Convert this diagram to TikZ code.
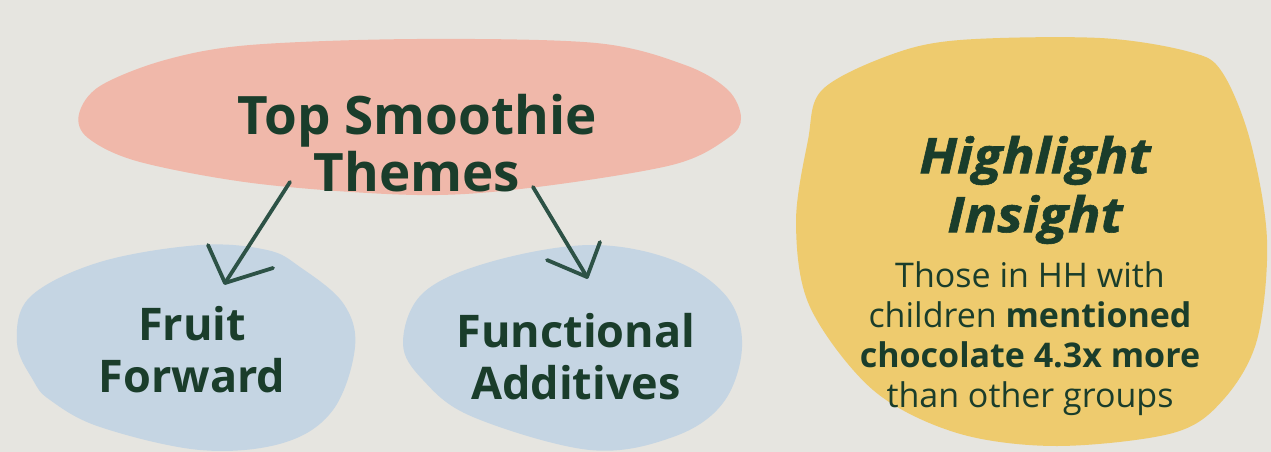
\documentclass[tikz,border=0pt]{standalone}
\usepackage{fontspec}
\setmainfont{Open Sans}
\definecolor{bg}{HTML}{E6E5E0}
\definecolor{pinkblob}{HTML}{F0B8AA}
\definecolor{blueblob}{HTML}{C5D5E3}
\definecolor{yellowblob}{HTML}{EECB6E}
\definecolor{txt}{HTML}{1A3D2B}
\definecolor{arrowc}{HTML}{2D5246}
\begin{document}
\begin{tikzpicture}[x=1pt,y=-1pt,
  blobpink/.style={fill=pinkblob},
  blobblue/.style={fill=blueblob},
  blobyellow/.style={fill=yellowblob},
  title/.style={text=txt,align=center,font=\fontsize{53}{57}\selectfont\bfseries},
  topic/.style={text=txt,align=center,font=\fontsize{45}{52}\selectfont\bfseries},
  headline/.style={text=txt,align=center,font=\fontsize{49}{59}\selectfont\bfseries\itshape\addfontfeatures{FakeBold=1.2,FakeStretch=1.1}},
  body/.style={text=txt,align=center,font=\fontsize{34}{40}\selectfont},
  sketch/.style={draw=arrowc,line width=3.8pt,line cap=round,line join=round}]
\fill[bg] (0,0) rectangle (1271,452);
\useasboundingbox (0,0) rectangle (1271,452);
% pink blob
\fill[blobpink] plot[smooth cycle,tension=0.55] coordinates {
 (79,114) (100,86) (165,60) (250,45) (417,39) (596,43) (685,65) (728,90)
 (741,118) (728,138) (672,165) (529,188) (417,195) (260,184) (140,162) (88,138)};
% blue blob 1
\fill[blobblue] plot[smooth cycle,tension=0.6] coordinates {
 (200,245) (267,250) (300,267) (343,303) (355,347) (333,410) (283,443) (200,450)
 (100,427) (50,400) (33,380) (17,343) (30,297) (100,262)};
% blue blob 2
\fill[blobblue] plot[smooth cycle,tension=0.6] coordinates {
 (590,245) (673,260) (727,297) (742,347) (723,403) (673,437) (590,450)
 (473,417) (423,380) (403,343) (423,293) (490,262)};
% yellow blob
\fill[blobyellow] plot[smooth cycle,tension=0.55] coordinates {
 (822,90) (890,55) (960,40) (1100,38) (1190,52) (1222,72) (1250,140) (1267,240) (1257,340)
 (1223,400) (1173,433) (1057,446) (957,433) (873,390) (810,307) (796,223) (808,140)};
% texts
\node[title] (top) at (417,143) {Top Smoothie\\Themes};
\node[topic] (fruit) at (192,350) {Fruit\\Forward};
\node[topic] (func) at (576,357) {Functional\\Additives};
\node[headline] (hl) at (1035,190) {Highlight\\Insight};
\node[body] (ins) at (1030,339) {Those in HH with\\children \textbf{mentioned}\\\textbf{chocolate 4.3x more}\\than other groups};
% arrows
\coordinate (a1s) at (290,182);
\coordinate (a1t) at (225,283);
\coordinate (a1l) at (208,245);
\coordinate (a1r) at (273,268);
\coordinate (a2s) at (533,187);
\coordinate (a2t) at (587,277);
\coordinate (a2l) at (547,260);
\coordinate (a2r) at (600,242);
\draw[sketch] (a1s) -- (a1t);
\draw[sketch] (a1l) -- (a1t) -- (a1r);
\draw[sketch] (a2s) -- (a2t);
\draw[sketch] (a2l) -- (a2t) -- (a2r);
\end{tikzpicture}
\end{document}
